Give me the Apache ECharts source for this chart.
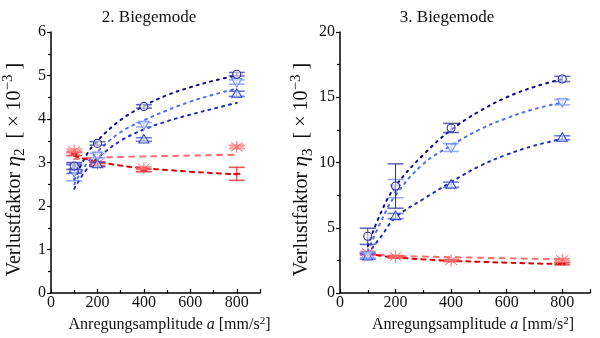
<!DOCTYPE html>
<html><head><meta charset="utf-8">
<script src="https://cdn.jsdelivr.net/npm/echarts@6/dist/echarts.min.js"></script>
<style>html,body{margin:0;padding:0;background:#fff}#c{width:600px;height:338px}</style>
</head><body><div id="c"></div>
<script>
// ---------- data ----------
const xPts = [100, 200, 400, 800];
const fitX = [100, 150, 200, 300, 400, 500, 600, 700, 800];
const xTicks = [0, 200, 400, 600, 800];

// 2. Biegemode (eta_2, x10^-3)
const m2Circle = [2.92, 3.44, 4.29, 5.03];
const m2CircleErr = [0.08, 0.04, 0.04, 0.04];
const m2TriDown = [2.78, 3.16, 3.87, 4.85];
const m2TriDownErr = [0.2, 0.05, 0.05, 0.05];
const m2TriUp = [2.85, 2.96, 3.53, 4.58];
const m2TriUpErr = [0.1, 0.05, 0.04, 0.06];
const m2Star = [3.27, 2.98, 2.87, 3.36];
const m2StarErr = [0.04, 0.04, 0.03, 0.04];
const m2Red = [3.2, 2.96, 2.82, 2.74];
const m2RedErr = [0.04, 0.05, 0.03, 0.15];
const m2FitCircle = [2.6, 3.15, 3.5, 3.98, 4.3, 4.55, 4.73, 4.88, 5.0];
const m2FitTriDown = [2.5, 2.95, 3.25, 3.7, 3.97, 4.2, 4.4, 4.56, 4.7];
const m2FitTriUp = [2.4, 2.82, 3.1, 3.5, 3.76, 3.95, 4.1, 4.24, 4.37];
const m2FitStar = [3.08, 3.1, 3.11, 3.13, 3.14, 3.15, 3.16, 3.17, 3.18];
const m2FitRed = [3.15, 3.08, 3.02, 2.93, 2.87, 2.83, 2.79, 2.76, 2.73];

// 3. Biegemode (eta_3, x10^-3)
const m3Circle = [4.35, 8.2, 12.65, 16.4];
const m3CircleErr = [0.62, 1.7, 0.35, 0.2];
const m3TriDown = [2.9, 8.0, 11.15, 14.62];
const m3TriDownErr = [0.2, 0.7, 0.3, 0.2];
const m3TriUp = [2.8, 5.9, 8.3, 11.9];
const m3TriUpErr = [0.2, 0.2, 0.2, 0.15];
const m3Star = [3.1, 2.8, 2.5, 2.55];
const m3StarErr = [0.1, 0.08, 0.08, 0.1];
const m3Red = [3.0, 2.77, 2.48, 2.24];
const m3RedErr = [0.08, 0.08, 0.06, 0.08];
const m3FitCircle = [3.6, 6.3, 8.2, 10.6, 12.5, 13.9, 15.0, 15.8, 16.4];
const m3FitTriDown = [3.2, 5.6, 7.5, 9.9, 11.3, 12.5, 13.4, 14.1, 14.6];
const m3FitTriUp = [3.0, 4.4, 5.8, 7.2, 8.5, 9.7, 10.6, 11.3, 11.8];
const m3FitStar = [3.0, 2.92, 2.85, 2.8, 2.75, 2.71, 2.67, 2.63, 2.6];
const m3FitRed = [3.05, 2.85, 2.75, 2.58, 2.48, 2.4, 2.33, 2.27, 2.22];

// ---------- styles ----------
const C_NAVY = '#2b2b9c', C_LB = '#6f8cff', C_BLUE = '#2f46d0', C_LR = '#ff6b6b', C_DR = '#e01010';
const L_NAVY = '#0a0a8a', L_LB = '#4d6ef5', L_BLUE = '#1a2dc0', L_LR = '#ff6f6f', L_DR = '#dd0000';
const FONT = 'Liberation Serif';

function zip3(ys, es) { return xPts.map((x, i) => [x, ys[i], es[i]]); }
function zip2(ys) { return fitX.map((x, i) => [x, ys[i]]); }

function markerSeries(idx, ys, es, kind, color) {
  return {
    type: 'custom', xAxisIndex: idx, yAxisIndex: idx, z: 5,
    data: zip3(ys, es),
    renderItem: function (params, api) {
      const x = api.value(0), y = api.value(1), e = api.value(2);
      const p = api.coord([x, y]);
      const t = api.coord([x, y + e]);
      const b = api.coord([x, y - e]);
      const cw = 8;
      const ch = [];
      const ls = { stroke: color, lineWidth: 1, fill: null };
      ch.push({ type: 'line', shape: { x1: p[0], y1: t[1], x2: p[0], y2: b[1] }, style: ls });
      ch.push({ type: 'line', shape: { x1: p[0] - cw, y1: t[1], x2: p[0] + cw, y2: t[1] }, style: { stroke: color, lineWidth: 1.6, opacity: 0.7 } });
      ch.push({ type: 'line', shape: { x1: p[0] - cw, y1: b[1], x2: p[0] + cw, y2: b[1] }, style: { stroke: color, lineWidth: 1.6, opacity: 0.7 } });
      const cx = p[0], cy = p[1];
      if (kind === 'circle') {
        ch.push({ type: 'circle', shape: { cx: cx, cy: cy, r: 4 }, style: { fill: 'rgba(255,255,255,0.5)', stroke: color, lineWidth: 1.1 } });
      } else if (kind === 'up') {
        ch.push({ type: 'polygon', shape: { points: [[cx, cy - 5], [cx - 5, cy + 3.5], [cx + 5, cy + 3.5]] }, style: { fill: 'rgba(255,255,255,0.5)', stroke: color, lineWidth: 1.1 } });
      } else if (kind === 'down') {
        ch.push({ type: 'polygon', shape: { points: [[cx, cy + 5], [cx - 5, cy - 3.5], [cx + 5, cy - 3.5]] }, style: { fill: 'rgba(255,255,255,0.5)', stroke: color, lineWidth: 1.1 } });
      } else if (kind === 'star') {
        const dx = 6, dy = 4.5;
        ch.push({ type: 'line', shape: { x1: cx - dx, y1: cy - dy, x2: cx + dx, y2: cy + dy }, style: ls });
        ch.push({ type: 'line', shape: { x1: cx - dx, y1: cy + dy, x2: cx + dx, y2: cy - dy }, style: ls });
        ch.push({ type: 'line', shape: { x1: cx - 7, y1: cy, x2: cx + 7, y2: cy }, style: ls });
        ch.push({ type: 'line', shape: { x1: cx, y1: cy - 6, x2: cx, y2: cy + 6 }, style: ls });
      } else {
        ch.push({ type: 'line', shape: { x1: cx - 3.5, y1: cy, x2: cx + 3.5, y2: cy }, style: { stroke: color, lineWidth: 2 } });
      }
      return { type: 'group', children: ch };
    }
  };
}

function fitSeries(idx, ys, color, dash) {
  return {
    type: 'line', xAxisIndex: idx, yAxisIndex: idx, z: 3,
    data: zip2(ys), smooth: 0.4, showSymbol: false, symbol: 'none',
    lineStyle: { color: color, width: 2, type: dash, cap: 'round' }
  };
}

const axisLine = { show: true, lineStyle: { color: '#000', width: 1.5 } };
const tickFont = { fontFamily: FONT, fontSize: 16, color: '#111' };
const xRich = {
  n: { fontFamily: FONT, fontSize: 16, color: '#111', lineHeight: 18 },
  i: { fontFamily: FONT, fontSize: 16, color: '#111', fontStyle: 'italic', lineHeight: 18 },
  sup: { fontFamily: FONT, fontSize: 11, color: '#111', verticalAlign: 'top', lineHeight: 11 }
};
const yRich = {
  n: { fontFamily: FONT, fontSize: 20, color: '#111', lineHeight: 27 },
  i: { fontFamily: FONT, fontSize: 22, color: '#111', fontStyle: 'italic', lineHeight: 27 },
  sub: { fontFamily: FONT, fontSize: 15, color: '#111', verticalAlign: 'bottom', lineHeight: 17 },
  sup: { fontFamily: FONT, fontSize: 15, color: '#111', verticalAlign: 'top', lineHeight: 17 }
};

function xAxis(gi) {
  return {
    type: 'value', gridIndex: gi, min: 0, max: 900, interval: 200,
    axisLine: axisLine,
    axisTick: { show: true, inside: true, length: 4, lineStyle: { color: '#000', width: 1.2 } },
    minorTick: { show: true, splitNumber: 2, length: 3, lineStyle: { color: '#000', width: 1.2 } },
    splitLine: { show: false },
    axisLabel: Object.assign({ margin: 2, formatter: function (v) { return xTicks.indexOf(v) >= 0 ? String(v) : ''; } }, tickFont),
    name: '{n|Anregungsamplitude }{i|a}{n| [mm/s}{sup|2}{n|]}',
    nameLocation: 'middle', nameGap: 21,
    nameTextStyle: { rich: xRich, padding: [0, 0, 0, gi === 0 ? 28 : 16] }
  };
}
function yAxis(gi, max, interval, sub) {
  return {
    type: 'value', gridIndex: gi, min: 0, max: max, interval: interval,
    axisLine: axisLine,
    axisTick: { show: true, inside: false, length: 4, lineStyle: { color: '#000', width: 1.2 } },
    minorTick: { show: true, splitNumber: 2, length: 3, lineStyle: { color: '#000', width: 1.2 } },
    splitLine: { show: false },
    axisLabel: Object.assign({ margin: 5 }, tickFont),
    name: '{n|Verlustfaktor }{i|η}{sub|' + sub + '}{n|  [ × 10}{sup|−3}{n| ]}',
    nameLocation: 'middle', nameRotate: 90, nameGap: gi === 0 ? 23 : 24,
    nameTextStyle: { rich: yRich, padding: [0, 14, 0, 0] }
  };
}

const chart = echarts.init(document.getElementById('c'), null, { renderer: 'canvas' });
chart.setOption({
  animation: false,
  backgroundColor: '#fff',
  title: [
    { text: '2. Biegemode', left: 144, top: 4, textAlign: 'center', textStyle: { fontFamily: FONT, fontSize: 17, fontWeight: 'normal', color: '#111' } },
    { text: '3. Biegemode', left: 442, top: 4, textAlign: 'center', textStyle: { fontFamily: FONT, fontSize: 17, fontWeight: 'normal', color: '#111' } }
  ],
  grid: [
    { left: 45, top: 32, width: 215, height: 266 },
    { left: 340, top: 32, width: 250, height: 266 }
  ],
  xAxis: [xAxis(0), xAxis(1)],
  yAxis: [yAxis(0, 6, 1, '2'), yAxis(1, 20, 5, '3')],
  series: [
    fitSeries(0, m2FitCircle, L_NAVY, [2, 5]),
    fitSeries(0, m2FitTriDown, L_LB, [2, 5]),
    fitSeries(0, m2FitTriUp, L_BLUE, [2, 5]),
    fitSeries(0, m2FitStar, L_LR, [5, 6]),
    fitSeries(0, m2FitRed, L_DR, [4, 5]),
    markerSeries(0, m2Red, m2RedErr, 'dash', C_DR),
    markerSeries(0, m2Star, m2StarErr, 'star', C_LR),
    markerSeries(0, m2TriUp, m2TriUpErr, 'up', C_BLUE),
    markerSeries(0, m2TriDown, m2TriDownErr, 'down', C_LB),
    markerSeries(0, m2Circle, m2CircleErr, 'circle', C_NAVY),

    fitSeries(1, m3FitCircle, L_NAVY, [2, 5]),
    fitSeries(1, m3FitTriDown, L_LB, [2, 5]),
    fitSeries(1, m3FitTriUp, L_BLUE, [2, 5]),
    fitSeries(1, m3FitStar, L_LR, [5, 6]),
    fitSeries(1, m3FitRed, L_DR, [4, 5]),
    markerSeries(1, m3Red, m3RedErr, 'dash', C_DR),
    markerSeries(1, m3Star, m3StarErr, 'star', C_LR),
    markerSeries(1, m3TriUp, m3TriUpErr, 'up', C_BLUE),
    markerSeries(1, m3TriDown, m3TriDownErr, 'down', C_LB),
    markerSeries(1, m3Circle, m3CircleErr, 'circle', C_NAVY)
  ]
});
</script></body></html>
